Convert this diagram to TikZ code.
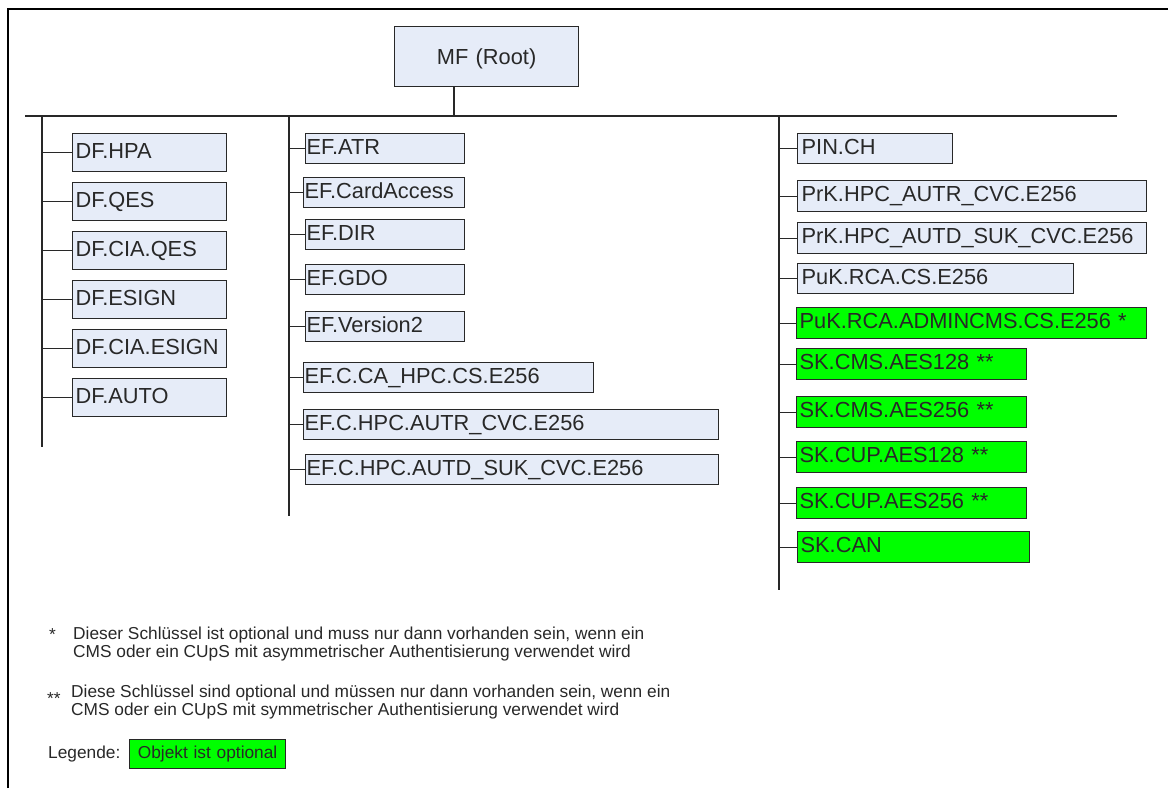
\documentclass[tikz,border=0pt]{standalone}
\usepackage{fontspec}
\setmainfont{Liberation Sans}
\definecolor{boxblue}{RGB}{230,236,248}
\definecolor{optgreen}{RGB}{0,255,0}
\definecolor{ink}{RGB}{40,40,40}
\newcommand\labelfont{\fontsize{21.8}{24}\selectfont}
\newcommand\notefont{\fontsize{17.3}{20}\selectfont}
\tikzset{
  tree/.style={line width=1.3pt, draw=ink},
  fbox/.style={draw=ink, line width=1.3pt, fill=boxblue, anchor=north west,
    inner xsep=3pt, inner ysep=0pt, font=\labelfont, text=ink, align=left,
    text height=15.6pt, text depth=4pt},
  optbox/.style={fbox, fill=optgreen},
  note/.style={anchor=base west, inner sep=0pt, font=\notefont, text=ink}
}
\begin{document}
\begin{tikzpicture}[x=1pt, y=-1pt]
\useasboundingbox (0,0) rectangle (1168,788);
% outer frame (only top and left edges fall inside the page)
\draw[line width=2pt, black] (8,788) -- (8,9) -- (1168,9);

% root
\node[fbox, align=center, text depth=0pt, text width=178pt, minimum height=60pt] (root) at (394,26) {MF (Root)};
\coordinate (stem) at (454,116);
\coordinate (busL) at (25,116);
\coordinate (busR) at (1117,116);
\draw[tree] (root.south -| stem) -- (stem);
\draw[tree] (busL) -- (busR);

% column trunks
\coordinate (colA) at (42,116);   \coordinate (colAend) at (42,447);
\coordinate (colB) at (289,116);  \coordinate (colBend) at (289,516);
\coordinate (colC) at (779,116);  \coordinate (colCend) at (779,590);
\draw[tree] (colA) -- (colAend);
\draw[tree] (colB) -- (colBend);
\draw[tree] (colC) -- (colCend);

% DF column
\node[fbox, text width=148pt, minimum height=38pt] (a1) at (72,133) {DF.HPA};
\node[fbox, text width=148pt, minimum height=38pt] (a2) at (72,182) {DF.QES};
\node[fbox, text width=148pt, minimum height=38pt] (a3) at (72,231) {DF.CIA.QES};
\node[fbox, text width=148pt, minimum height=38pt] (a4) at (72,280) {DF.ESIGN};
\node[fbox, text width=148pt, minimum height=38pt] (a5) at (72,329) {DF.CIA.ESIGN};
\node[fbox, text width=148pt, minimum height=38pt] (a6) at (72,378) {DF.AUTO};
\foreach \n in {a1,a2,a3,a4,a5,a6} \draw[tree] (\n.west -| colA) -- (\n.west);

% EF column
\node[fbox, inner xsep=1pt, text width=157pt, minimum height=30pt] (b1) at (305,133) {EF.ATR};
\node[fbox, inner xsep=1pt, text width=159pt, minimum height=30pt] (b2) at (303,177) {EF.CardAccess};
\node[fbox, inner xsep=1pt, text width=157pt, minimum height=30pt] (b3) at (305,219) {EF.DIR};
\node[fbox, inner xsep=1pt, text width=157pt, minimum height=30pt] (b4) at (305,264) {EF.GDO};
\node[fbox, inner xsep=1pt, text width=157pt, minimum height=30pt] (b5) at (305,311) {EF.Version2};
\node[fbox, inner xsep=1pt, text width=288pt, minimum height=30pt] (b6) at (303,362) {EF.C.CA\_HPC.CS.E256};
\node[fbox, inner xsep=1pt, text width=413pt, minimum height=30pt] (b7) at (303,409) {EF.C.HPC.AUTR\_CVC.E256};
\node[fbox, inner xsep=1pt, text width=411pt, minimum height=30pt] (b8) at (305,454) {EF.C.HPC.AUTD\_SUK\_CVC.E256};
\foreach \n in {b1,b2,b3,b4,b5,b6,b7,b8} \draw[tree] (\n.west -| colB) -- (\n.west);

% key column
\node[fbox, inner xsep=4pt, text width=147pt, minimum height=30pt] (c1) at (797,133) {PIN.CH};
\node[fbox, inner xsep=4pt, text width=341pt, minimum height=31pt] (c2) at (797,180) {PrK.HPC\_AUTR\_CVC.E256};
\node[fbox, inner xsep=4pt, text width=341pt, minimum height=31pt] (c3) at (797,222) {PrK.HPC\_AUTD\_SUK\_CVC.E256};
\node[fbox, inner xsep=4pt, text width=268pt, minimum height=30pt] (c4) at (797,263) {PuK.RCA.CS.E256};
\node[optbox, inner xsep=3pt, text width=344pt, minimum height=31pt] (c5) at (796,307) {PuK.RCA.ADMINCMS.CS.E256 *};
\node[optbox, inner xsep=3pt, text width=224pt, minimum height=31pt] (c6) at (796,348) {SK.CMS.AES128 **};
\node[optbox, inner xsep=3pt, text width=224pt, minimum height=31pt] (c7) at (796,396) {SK.CMS.AES256 **};
\node[optbox, inner xsep=3pt, text width=224pt, minimum height=31pt] (c8) at (796,441) {SK.CUP.AES128 **};
\node[optbox, inner xsep=3pt, text width=224pt, minimum height=31pt] (c9) at (796,487) {SK.CUP.AES256 **};
\node[optbox, inner xsep=3pt, text width=226pt, minimum height=31pt] (c10) at (797,531) {SK.CAN};
\foreach \n in {c1,c2,c3,c4,c5,c6,c7,c8,c9,c10} \draw[tree] (\n.west -| colC) -- (\n.west);

% footnotes
\node[note] (s1) at (49,640) {*};
\node[note] (n1a) at (73,639) {Dieser Schlüssel ist optional und muss nur dann vorhanden sein, wenn ein};
\node[note] (n1b) at (73,657) {CMS oder ein CUpS mit asymmetrischer Authentisierung verwendet wird};
\node[note] (s2) at (47,704) {**};
\node[note] (n2a) at (71,697) {Diese Schlüssel sind optional und müssen nur dann vorhanden sein, wenn ein};
\node[note] (n2b) at (71,715) {CMS oder ein CUpS mit symmetrischer Authentisierung verwendet wird};

% legend
\node[note] (leg) at (48,758) {Legende:};
\node[optbox, line width=1.2pt, font=\notefont, align=center, text height=12pt, text depth=4pt,
  text width=150pt, minimum height=29pt] (legbox) at (129,739) {Objekt ist optional};
\end{tikzpicture}
\end{document}
